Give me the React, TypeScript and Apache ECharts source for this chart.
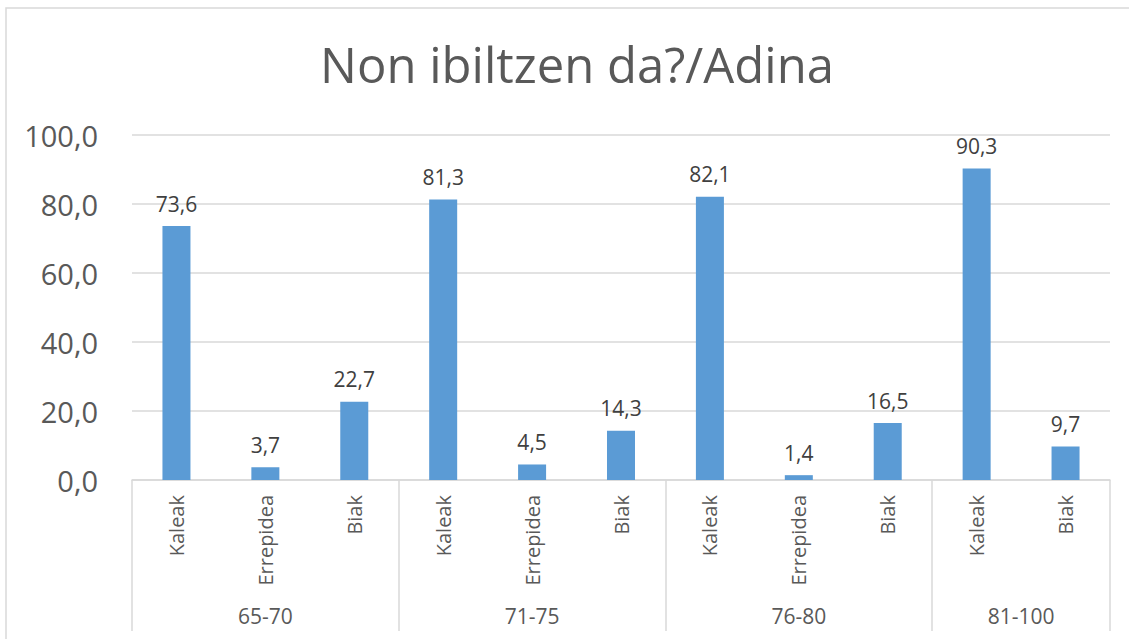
import React, { useEffect, useRef } from "react";
import * as echarts from "echarts";

const titleText = "Non ibiltzen da?/Adina";
const categories = [
  "Kaleak", "Errepidea", "Biak",
  "Kaleak", "Errepidea", "Biak",
  "Kaleak", "Errepidea", "Biak",
  "Kaleak", "Biak",
];
const values = [73.6, 3.7, 22.7, 81.3, 4.5, 14.3, 82.1, 1.4, 16.5, 90.3, 9.7];
const groups = ["65-70", "71-75", "76-80", "81-100"];
const groupSizes = [3, 3, 3, 2];
const yTicks = { min: 0, max: 100, interval: 20 };

const FONT = "'Open Sans', 'Noto Sans', sans-serif";
const comma = (v: number) => v.toFixed(1).replace(".", ",");

export default function App() {
  const ref = useRef<HTMLDivElement>(null);
  useEffect(() => {
    if (!ref.current) return;
    const chart = echarts.init(ref.current, undefined, { renderer: "svg" });

    const boundaries: number[] = [0];
    const centers: number[] = [];
    let acc = 0;
    groupSizes.forEach((s) => {
      centers.push(acc + s / 2);
      acc += s;
      boundaries.push(acc);
    });
    const labelFor = (v: number) => {
      const i = centers.findIndex((c) => Math.abs(c - v) < 1e-6);
      return i >= 0 ? groups[i] : "";
    };

    chart.setOption({
      animation: false,
      backgroundColor: "#ffffff",
      textStyle: { fontFamily: FONT },
      title: {
        text: titleText,
        left: 572,
        top: 34,
        textAlign: "center",
        textStyle: { fontFamily: FONT, fontSize: 49, fontWeight: "normal", color: "#595959" },
      },
      graphic: [
        {
          type: "rect",
          shape: { x: 6, y: 8, width: 1140, height: 650 },
          style: { fill: "none", stroke: "#d9d9d9", lineWidth: 1.5 },
          silent: true,
        },
      ],
      grid: { left: 132, right: 19, top: 135, bottom: 159, containLabel: false },
      xAxis: [
        {
          type: "category",
          data: categories,
          position: "bottom",
          axisLine: { show: true, lineStyle: { color: "#d9d9d9", width: 1.5 } },
          axisTick: { show: false },
          axisLabel: {
            interval: 0,
            rotate: 90,
            margin: 15,
            fontSize: 20,
            color: "#595959",
            fontFamily: FONT,
          },
        },
        {
          type: "value",
          min: 0,
          max: categories.length,
          position: "bottom",
          axisLine: { show: false },
          splitLine: { show: false },
          axisTick: {
            show: true,
            customValues: boundaries,
            length: 151,
            lineStyle: { color: "#d9d9d9", width: 1.5 },
          },
          axisLabel: {
            customValues: centers,
            formatter: (v: number) => labelFor(v),
            margin: 125,
            fontSize: 21,
            color: "#595959",
            fontFamily: FONT,
          },
        },
      ],
      yAxis: {
        type: "value",
        min: yTicks.min,
        max: yTicks.max,
        interval: yTicks.interval,
        axisLine: { show: false },
        axisTick: { show: false },
        splitLine: { lineStyle: { color: "#d9d9d9", width: 1.5 } },
        axisLabel: {
          formatter: (v: number) => comma(v),
          margin: 34,
          fontSize: 29,
          color: "#595959",
          fontFamily: FONT,
        },
      },
      series: [
        {
          type: "bar",
          xAxisIndex: 0,
          data: values,
          barWidth: "31.5%",
          itemStyle: { color: "#5b9bd5" },
          label: {
            show: true,
            position: "top",
            distance: 12,
            formatter: (p: any) => comma(p.value),
            fontSize: 21,
            color: "#404040",
            fontFamily: FONT,
          },
        },
      ],
    });
    return () => chart.dispose();
  }, []);
  return (
    <div
      ref={ref}
      style={{ position: "fixed", left: 0, top: 0, width: 1129, height: 639 }}
    />
  );
}
